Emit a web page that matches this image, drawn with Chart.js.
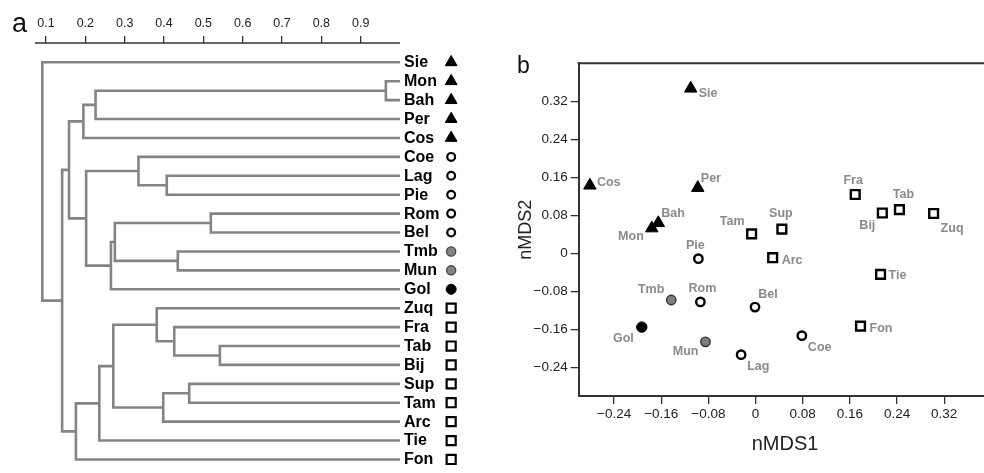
<!DOCTYPE html>
<html><head><meta charset="utf-8">
<script src="https://cdn.jsdelivr.net/npm/chart.js@4.4.1/dist/chart.umd.min.js"></script>
<style>
html,body{margin:0;padding:0;background:#fff;overflow:hidden;width:984px;height:473px}
canvas{position:absolute;top:0}
#ca{left:0}
#cb{left:505px}
</style></head><body>
<canvas id="ca" width="490" height="473"></canvas>
<canvas id="cb" width="495" height="473"></canvas>
<script>
// ---------- data ----------
const leaves = ['Sie','Mon','Bah','Per','Cos','Coe','Lag','Pie','Rom','Bel','Tmb','Mun','Gol','Zuq','Fra','Tab','Bij','Sup','Tam','Arc','Tie','Fon'];
const leafGroups = ['tri','tri','tri','tri','tri','open','open','open','open','open','gray','gray','black','sq','sq','sq','sq','sq','sq','sq','sq','sq'];

// dendrogram merges (node k = '#k'), heights = similarity
const mergeLeft   = ['Mon', '#0',  '#1',  'Lag', 'Coe', 'Rom', 'Tmb', '#5',  '#7',  '#4',  '#2',  'Tab', 'Fra', 'Zuq', 'Sup', '#14', '#13', '#16', '#17', '#10', 'Sie'];
const mergeRight  = ['Bah', 'Per', 'Cos', 'Pie', '#3',  'Bel', 'Mun', '#6',  'Gol', '#8',  '#9',  'Bij', '#11', '#12', 'Tam', 'Arc', '#15', 'Tie', 'Fon', '#18', '#19'];
const mergeHeight = [0.964, 0.226, 0.195, 0.407, 0.335, 0.519, 0.435, 0.275, 0.265, 0.202, 0.1585, 0.542, 0.426, 0.3815, 0.464, 0.398, 0.271, 0.2355, 0.176, 0.141, 0.0906];
const topTicks = [0.1, 0.2, 0.3, 0.4, 0.5, 0.6, 0.7, 0.8, 0.9];

// nMDS coordinates, same order as leaves
const mdsX = [-0.110, -0.176, -0.165, -0.098, -0.281, 0.0785, -0.0245, -0.097, -0.0936, -0.001, -0.143, -0.085, -0.193, 0.302, 0.169, 0.244, 0.215, 0.0446, -0.0067, 0.029, 0.212, 0.178];
const mdsY = [0.347, 0.053, 0.064, 0.138, 0.143, -0.173, -0.213, -0.011, -0.102, -0.113, -0.098, -0.186, -0.155, 0.084, 0.124, 0.092, 0.085, 0.051, 0.041, -0.009, -0.044, -0.153];
const mdsTicks = [-0.24, -0.16, -0.08, 0, 0.08, 0.16, 0.24, 0.32];

// ---------- styles / layout ----------
const FONT = '"Liberation Sans", Arial, Helvetica, sans-serif';
Chart.defaults.font.family = FONT;
const LINE_GRAY = '#848484';
const AX = '#333';

const styleA = {
  tri:   {ps:'triangle', r:6.8, bg:'#000', bc:'#000', bw:1},
  open:  {ps:'circle',   r:3.9, bg:'#fff', bc:'#000', bw:2.2},
  gray:  {ps:'circle',   r:4.6, bg:'#858585', bc:'#444', bw:1.3},
  black: {ps:'circle',   r:5,   bg:'#000', bc:'#000', bw:1},
  sq:    {ps:'rect',     r:6.4, bg:'#fff', bc:'#000', bw:2.2}
};
const styleB = {
  tri:   {ps:'triangle', r:7.2, bg:'#000', bc:'#000', bw:1},
  open:  {ps:'circle',   r:4.2, bg:'#fff', bc:'#000', bw:2.4},
  gray:  {ps:'circle',   r:4.7, bg:'#7f7f7f', bc:'#333', bw:1.4},
  black: {ps:'circle',   r:5.2, bg:'#000', bc:'#000', bw:1},
  sq:    {ps:'rect',     r:6.2, bg:'#fff', bc:'#000', bw:2.4}
};
// label placement in panel b: [dx, dy, align]
const mdsLabelPos = {
  Sie:[8,5,'left'], Mon:[-8,8,'right'], Bah:[3,-9,'left'], Per:[3,-9,'left'], Cos:[7,-3,'left'],
  Coe:[6,12,'left'], Lag:[6,12,'left'], Pie:[-3,-13,'center'], Rom:[2,-13,'center'], Bel:[13,-13,'center'],
  Tmb:[-7,-10,'right'], Mun:[-7,10,'right'], Gol:[-8,11,'right'],
  Zuq:[7,15,'left'], Fra:[-2,-14,'center'], Tab:[4,-15,'center'], Bij:[-7,13,'right'],
  Sup:[-1,-16,'center'], Tam:[-7,-12,'right'], Arc:[9,3,'left'], Tie:[8,1,'left'], Fon:[9,2,'left']
};

// ---------- dendrogram geometry from merges ----------
const nodeY = [], nodeX = [];
function childPos(id){
  if (id[0] === '#') { const k = +id.slice(1); return [nodeX[k], nodeY[k]]; }
  return [1.0, leaves.indexOf(id)];
}
const dendroSets = [];
mergeHeight.forEach((h, k) => {
  const [xl, yl] = childPos(mergeLeft[k]);
  const [xr, yr] = childPos(mergeRight[k]);
  nodeX[k] = h; nodeY[k] = (yl + yr) / 2;
  dendroSets.push({
    type:'scatter', showLine:true, fill:false,
    data:[{x:xl,y:yl},{x:h,y:yl},{x:h,y:yr},{x:xr,y:yr}],
    borderColor:LINE_GRAY, borderWidth:2.6, pointRadius:0, borderJoinStyle:'miter', borderCapStyle:'butt', clip:false
  });
});
const markerX = 1.13;
const markerSetA = {
  type:'scatter',
  data: leaves.map((n,i)=>({x:markerX, y:i})),
  pointStyle: c => styleA[leafGroups[c.dataIndex]].ps,
  pointRadius: c => styleA[leafGroups[c.dataIndex]].r,
  pointBackgroundColor: c => styleA[leafGroups[c.dataIndex]].bg,
  pointBorderColor: c => styleA[leafGroups[c.dataIndex]].bc,
  pointBorderWidth: c => styleA[leafGroups[c.dataIndex]].bw,
  clip:false
};

const pluginA = {
  id:'dendroText',
  afterDatasetsDraw(chart){
    const {ctx} = chart; const xs = chart.scales.x, ys = chart.scales.y;
    ctx.save();
    ctx.strokeStyle = AX; ctx.lineWidth = 1.6;
    ctx.beginPath(); ctx.moveTo(xs.getPixelForValue(xs.min), chart.chartArea.top); ctx.lineTo(xs.getPixelForValue(1.0), chart.chartArea.top); ctx.stroke();
    ctx.font = 'bold 16px ' + FONT; ctx.fillStyle = '#000'; ctx.textAlign='left'; ctx.textBaseline='middle';
    leaves.forEach((n,i)=>{ ctx.fillText(n, xs.getPixelForValue(1.0) + 4, ys.getPixelForValue(i) + 0.5); });
    ctx.font = '27px ' + FONT; ctx.fillStyle = '#111'; ctx.textBaseline='alphabetic';
    ctx.fillText('a', 12, 32);
    ctx.restore();
  }
};

new Chart(document.getElementById('ca'), {
  type:'scatter',
  data:{datasets:[...dendroSets, markerSetA]},
  options:{
    responsive:false, animation:false,
    layout:{padding:{left:35, right:11.3, top:0, bottom:0}},
    plugins:{legend:{display:false}, tooltip:{enabled:false}},
    scales:{
      x:{type:'linear', position:'top', min:0.072, max:1.2,
         afterFit: s => { s.height = 43; },
         afterBuildTicks: s => { s.ticks = topTicks.map(v=>({value:v})); },
         border:{display:false},
         grid:{drawOnChartArea:false, drawTicks:true, tickLength:7, color:AX, lineWidth:1.3},
         ticks:{padding:5, color:'#222', font:{size:12.5}, maxRotation:0, autoSkip:false, callback: v => v.toFixed(1)}
      },
      y:{type:'linear', display:false, reverse:true, min:-1.021, max:21.26}
    }
  },
  plugins:[pluginA]
});

// ---------- panel b ----------
const pluginB = {
  id:'mdsText',
  afterDatasetsDraw(chart){
    const {ctx, chartArea} = chart;
    const meta = chart.getDatasetMeta(0);
    ctx.save();
    ctx.font = 'bold 12.5px ' + FONT; ctx.fillStyle = '#8a8a8a'; ctx.textBaseline='middle';
    meta.data.forEach((pt,i)=>{
      const [dx,dy,al] = mdsLabelPos[leaves[i]];
      ctx.textAlign = al; ctx.fillText(leaves[i], pt.x+dx, pt.y+dy);
    });
    ctx.strokeStyle = AX; ctx.lineWidth = 2;
    ctx.beginPath(); ctx.moveTo(chartArea.left-1, chartArea.top); ctx.lineTo(chartArea.right+5, chartArea.top); ctx.stroke();
    ctx.font = '23px ' + FONT; ctx.fillStyle = '#111'; ctx.textAlign='left'; ctx.textBaseline='alphabetic';
    ctx.fillText('b', 12, 73);
    ctx.restore();
  }
};
const fmtB = v => Math.abs(v) < 1e-9 ? '0' : (v < 0 ? '\u2212' : '') + Math.abs(v).toFixed(2);

new Chart(document.getElementById('cb'), {
  type:'scatter',
  data:{datasets:[{
    data: leaves.map((n,i)=>({x:mdsX[i], y:mdsY[i]})),
    pointStyle: c => styleB[leafGroups[c.dataIndex]].ps,
    pointRadius: c => styleB[leafGroups[c.dataIndex]].r,
    pointBackgroundColor: c => styleB[leafGroups[c.dataIndex]].bg,
    pointBorderColor: c => styleB[leafGroups[c.dataIndex]].bc,
    pointBorderWidth: c => styleB[leafGroups[c.dataIndex]].bw,
    clip:false
  }]},
  options:{
    responsive:false, animation:false,
    layout:{padding:{left:0, right:2.3, top:63.3, bottom:0}},
    plugins:{legend:{display:false}, tooltip:{enabled:false}},
    scales:{
      x:{type:'linear', position:'bottom', min:-0.30, max:0.40,
         afterFit: s => { s.height = 77; },
         afterBuildTicks: s => { s.ticks = mdsTicks.map(v=>({value:v})); },
         border:{display:true, color:AX, width:2},
         grid:{drawOnChartArea:false, drawTicks:true, tickLength:8, color:AX, lineWidth:1.3},
         ticks:{padding:2.5, color:'#222', font:{size:13.5}, maxRotation:0, autoSkip:false, callback: fmtB},
         title:{display:true, text:'nMDS1', color:'#222', font:{size:20}, padding:{top:0, bottom:17}}
      },
      y:{type:'linear', position:'left', min:-0.30, max:0.40,
         afterFit: s => { s.width = 73.7; },
         afterBuildTicks: s => { s.ticks = mdsTicks.map(v=>({value:v})); },
         border:{display:true, color:AX, width:2},
         grid:{drawOnChartArea:false, drawTicks:true, tickLength:8, color:AX, lineWidth:1.3},
         ticks:{padding:3, color:'#222', font:{size:13.5}, autoSkip:false, callback: fmtB},
         title:{display:true, text:'nMDS2', color:'#222', font:{size:18}, padding:{top:10, bottom:0}}
      }
    }
  },
  plugins:[pluginB]
});
</script>
</body></html>
